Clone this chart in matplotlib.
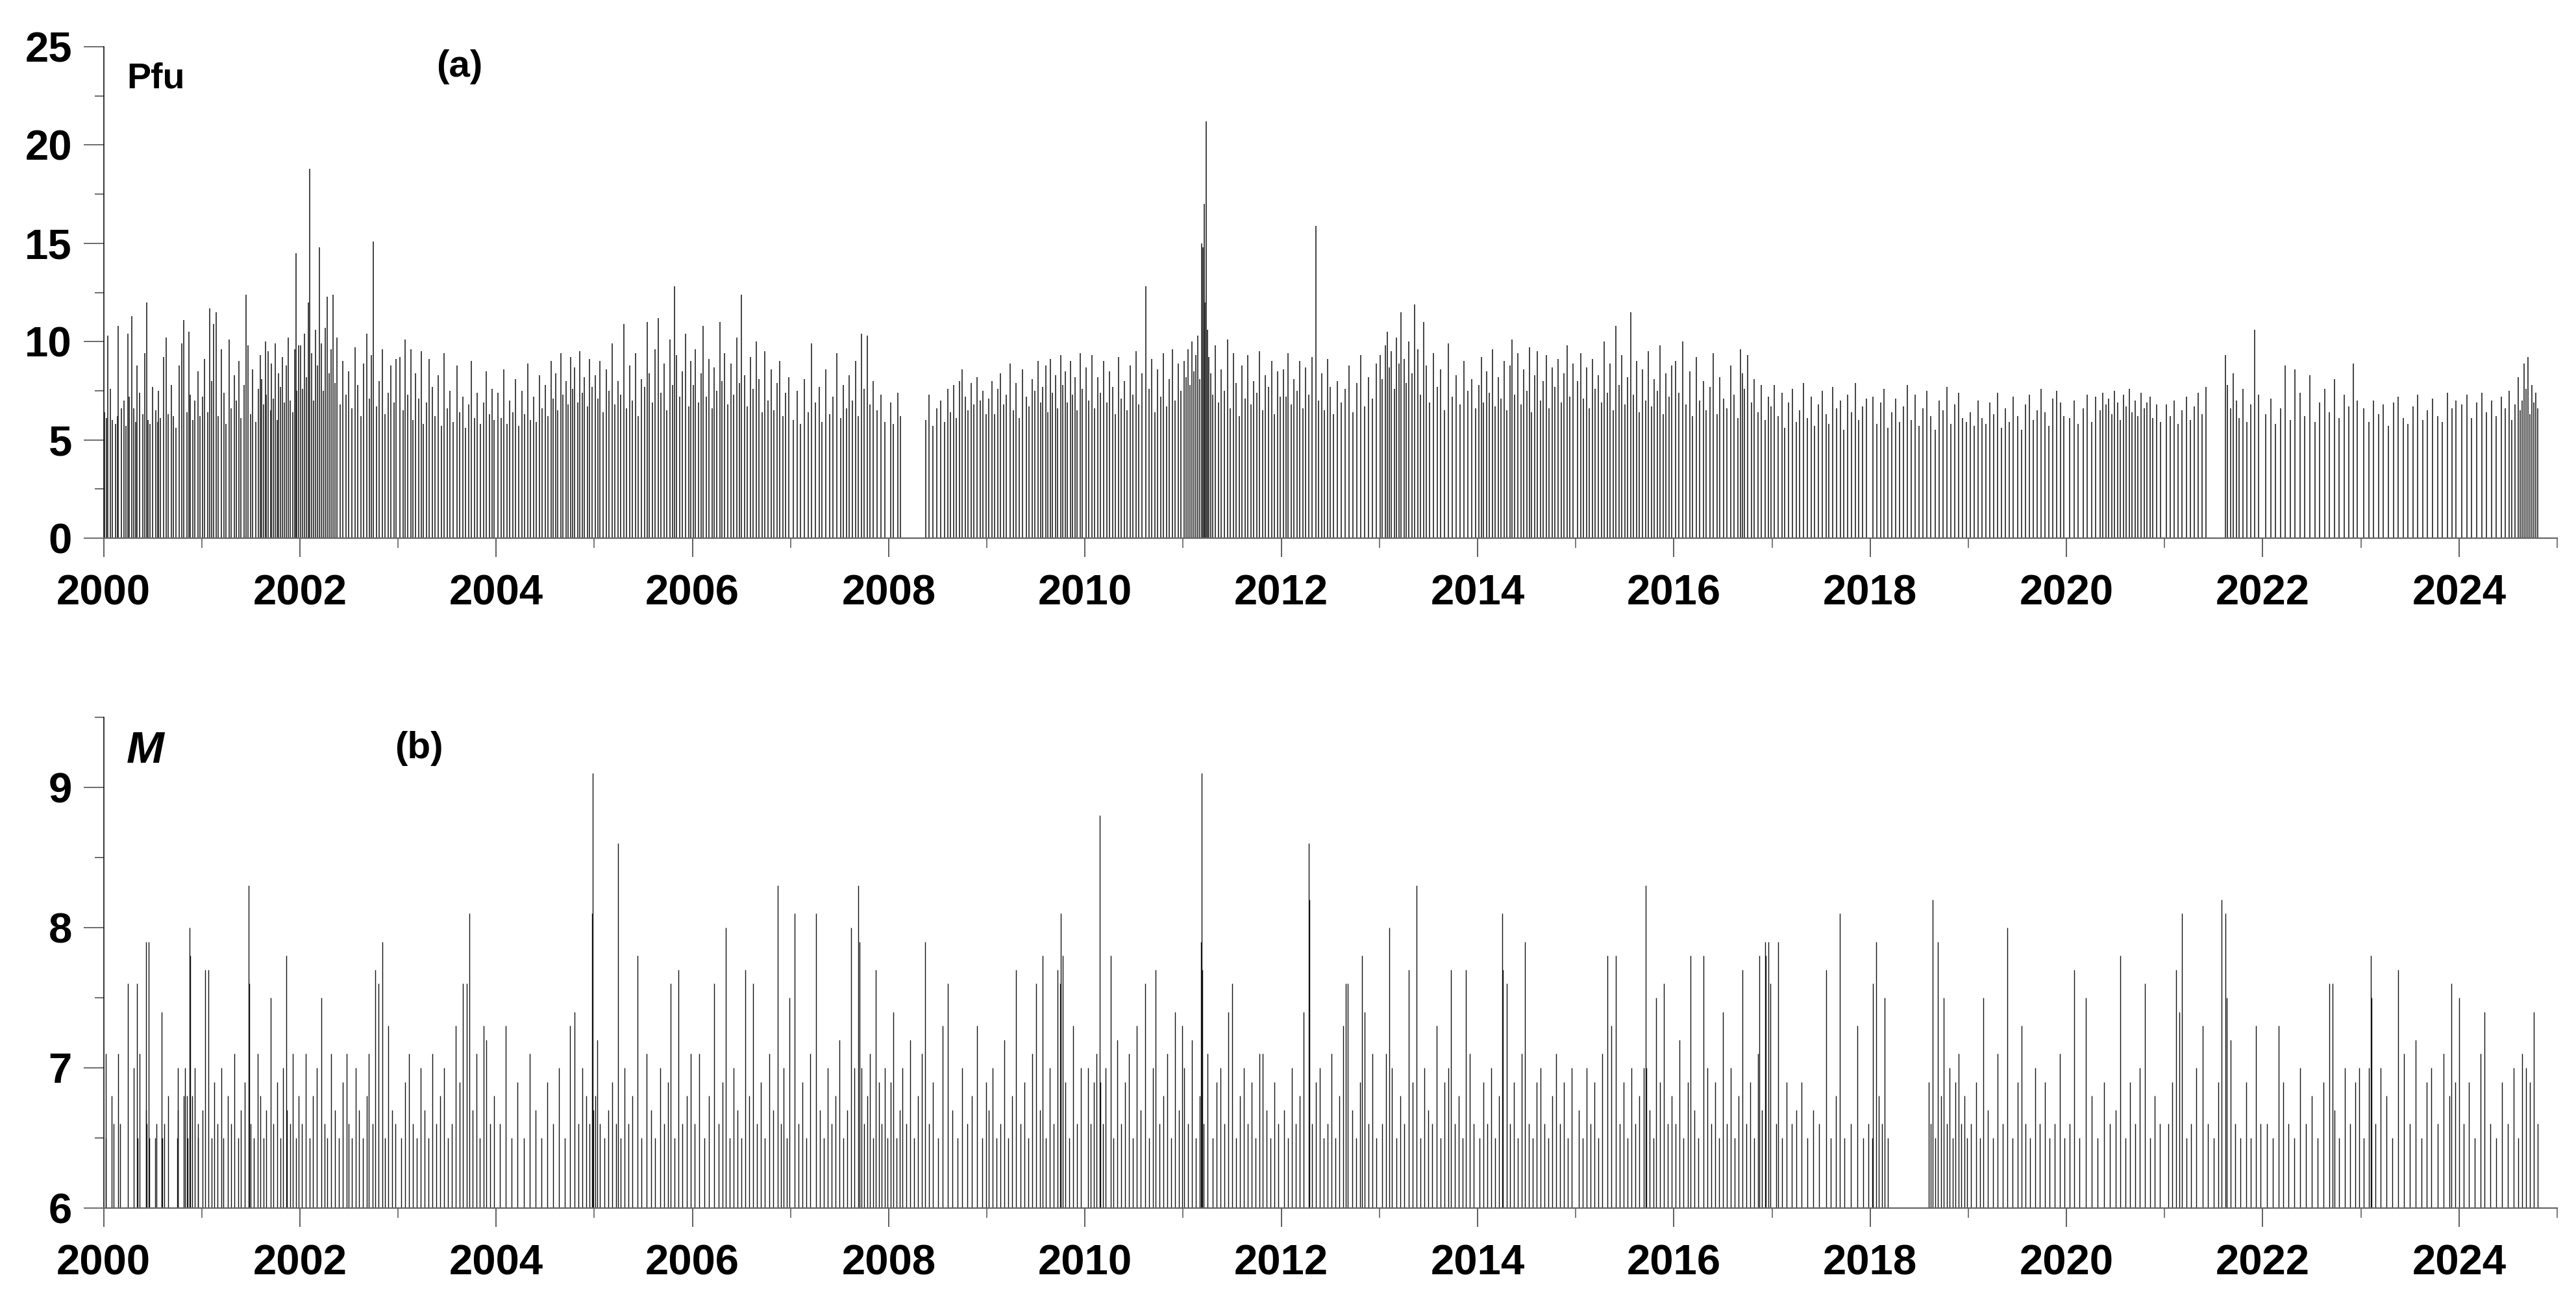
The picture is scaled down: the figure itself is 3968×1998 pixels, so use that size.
import matplotlib
matplotlib.use("Agg")
import matplotlib.pyplot as plt
from matplotlib.ticker import MultipleLocator, FormatStrFormatter

# ---------------- data (years since 2000.0) ----------------
pfu_t = [
    0.01,0.03,0.04,0.07,0.09,0.12,0.14,0.15,0.18,0.21,0.23,0.25,0.26,0.29,0.31,0.33,0.34,0.37,0.40,0.42,0.44,0.45,0.47,0.50,0.53,0.55,0.56,0.58,0.61,0.64,0.66,0.69,0.71,0.74,0.77,0.80,0.82,0.85,0.87,0.88,0.91,0.93,0.96,0.98,
    1.01,1.03,1.06,1.08,1.10,1.12,1.15,1.17,1.20,1.23,1.25,1.28,1.30,1.33,1.35,1.38,1.40,1.43,1.45,1.47,1.50,1.52,1.55,1.58,1.60,1.61,1.63,1.65,1.66,1.68,1.70,1.71,1.73,1.75,1.77,1.78,1.80,1.82,1.84,1.86,1.88,1.90,1.93,1.95,1.97,1.99,
    1.96,2.01,2.03,2.05,2.07,2.09,2.10,2.12,2.14,2.16,2.18,2.20,2.22,2.24,2.26,2.28,2.30,2.32,2.34,2.36,2.38,2.41,2.44,2.47,2.50,2.53,2.56,2.59,2.62,2.65,2.68,2.71,2.73,2.75,2.78,2.81,2.84,2.87,2.90,2.93,2.96,2.98,
    3.02,3.05,3.07,3.10,3.13,3.15,3.18,3.21,3.24,3.26,3.29,3.32,3.35,3.38,3.41,3.44,3.47,3.50,3.53,3.56,3.60,3.63,3.66,3.69,3.72,3.75,3.78,3.81,3.84,3.87,3.90,3.93,3.96,3.98,
    4.02,4.05,4.08,4.11,4.14,4.17,4.20,4.23,4.26,4.29,4.32,4.35,4.38,4.41,4.44,4.47,4.50,4.53,4.56,4.58,4.61,4.63,4.66,4.68,4.71,4.73,4.76,4.78,4.80,4.83,4.85,4.88,4.90,4.93,4.95,4.98,
    5.01,5.04,5.06,5.09,5.12,5.15,5.18,5.21,5.24,5.27,5.30,5.33,5.36,5.39,5.42,5.45,5.48,5.51,5.54,5.56,5.59,5.62,5.65,5.68,5.71,5.74,5.77,5.80,5.82,5.84,5.87,5.90,5.93,5.96,5.98,
    6.01,6.03,6.06,6.09,6.11,6.14,6.17,6.20,6.22,6.25,6.28,6.30,6.33,6.36,6.39,6.42,6.45,6.48,6.50,6.53,6.56,6.59,6.62,6.65,6.68,6.71,6.74,6.77,6.80,6.83,6.86,6.89,6.92,6.95,6.98,
    7.03,7.07,7.10,7.14,7.18,7.21,7.25,7.29,7.32,7.36,7.40,7.43,7.47,7.51,7.54,7.57,7.60,7.63,7.66,7.69,7.72,7.75,7.78,7.81,7.84,7.88,7.92,7.96,
    8.02,8.05,8.09,8.12,8.38,8.41,8.45,8.49,8.53,8.57,8.60,8.63,8.66,8.69,8.72,8.75,8.78,8.81,8.84,8.87,8.90,8.93,8.96,8.99,
    9.02,9.05,9.08,9.11,9.14,9.17,9.20,9.24,9.27,9.30,9.33,9.36,9.40,9.43,9.46,9.49,9.52,9.55,9.57,9.60,9.62,9.65,9.67,9.70,9.72,9.75,9.77,9.80,9.82,9.85,9.87,9.90,9.92,9.95,9.97,
    10.01,10.04,10.07,10.10,10.13,10.16,10.19,10.22,10.25,10.28,10.31,10.34,10.37,10.40,10.43,10.46,10.49,10.52,10.55,10.58,10.62,10.65,10.68,10.71,10.74,10.77,10.80,10.83,10.86,10.89,10.92,10.95,10.98,
    11.01,11.03,11.05,11.07,11.09,11.11,11.13,11.15,11.17,11.19,11.205,11.215,11.225,11.235,11.245,11.26,11.28,11.30,11.33,11.36,11.39,11.42,11.45,11.48,11.51,11.54,11.57,11.60,11.63,11.66,11.69,11.72,11.75,11.78,11.81,11.84,11.87,11.90,11.93,11.96,11.99,
    12.02,12.05,12.07,12.10,12.13,12.16,12.19,12.22,12.25,12.28,12.31,12.35,12.38,12.41,12.44,12.47,12.50,12.53,12.57,12.61,12.65,12.69,12.73,12.77,12.81,12.85,12.89,12.93,12.97,
    13.01,13.03,13.06,13.08,13.10,13.12,13.15,13.17,13.20,13.22,13.25,13.27,13.30,13.33,13.36,13.39,13.42,13.45,13.48,13.51,13.55,13.59,13.62,13.66,13.70,13.74,13.78,13.82,13.86,13.90,13.94,13.98,
    14.01,14.04,14.06,14.09,14.12,14.15,14.18,14.21,14.24,14.27,14.30,14.33,14.35,14.38,14.41,14.44,14.47,14.50,14.53,14.55,14.58,14.61,14.64,14.67,14.70,14.73,14.76,14.79,14.82,14.85,14.88,14.91,14.94,14.97,
    15.02,15.05,15.08,15.11,15.14,15.17,15.20,15.23,15.26,15.29,15.32,15.35,15.38,15.41,15.44,15.47,15.50,15.53,15.56,15.59,15.62,15.65,15.68,15.71,15.74,15.77,15.80,15.83,15.86,15.89,15.92,15.95,15.98,
    16.02,16.05,16.09,16.12,16.16,16.19,16.23,16.26,16.30,16.33,16.37,16.40,16.44,16.47,16.51,16.54,16.58,16.61,16.65,16.68,16.70,16.72,16.75,16.79,16.82,16.86,16.89,16.93,16.96,16.99,
    17.02,17.06,17.10,17.13,17.17,17.21,17.25,17.28,17.32,17.36,17.40,17.43,17.47,17.51,17.55,17.58,17.62,17.66,17.70,17.73,17.77,17.81,17.85,17.88,17.92,17.96,
    18.03,18.07,18.11,18.14,18.18,18.22,18.26,18.30,18.34,18.38,18.42,18.46,18.50,18.54,18.58,18.62,18.66,18.70,18.74,18.78,18.82,18.86,18.90,18.94,18.98,
    19.02,19.06,19.10,19.14,19.18,19.22,19.26,19.30,19.34,19.38,19.42,19.46,19.50,19.54,19.58,19.62,19.66,19.70,19.74,19.78,19.82,19.86,19.90,19.94,19.97,
    20.03,20.08,20.12,20.17,20.21,20.26,20.30,20.34,20.37,20.40,20.43,20.46,20.49,20.52,20.55,20.58,20.61,20.64,20.67,20.70,20.73,20.76,20.79,20.82,20.85,20.88,20.92,20.96,
    21.02,21.06,21.10,21.14,21.18,21.22,21.26,21.30,21.34,21.38,21.42,21.62,21.64,21.67,21.70,21.73,21.76,21.80,21.84,21.88,21.92,21.96,
    22.03,22.08,22.13,22.18,22.23,22.28,22.33,22.38,22.43,22.48,22.53,22.58,22.63,22.68,22.73,22.78,22.83,22.88,22.92,22.96,
    23.03,23.08,23.13,23.18,23.23,23.28,23.33,23.38,23.43,23.48,23.53,23.58,23.63,23.68,23.73,23.78,23.83,23.88,23.93,23.97,
    24.03,24.08,24.13,24.18,24.23,24.28,24.33,24.38,24.43,24.47,24.51,24.54,24.57,24.60,24.62,24.64,24.66,24.68,24.70,24.72,24.74,24.76,24.78,24.80,
]
pfu_v = [
    6.4,6.1,10.3,7.6,6.0,5.8,6.2,10.8,6.6,7.0,5.7,10.4,7.2,11.3,6.6,5.9,8.8,7.4,6.3,9.4,12.0,6.0,5.8,7.7,6.5,5.9,7.5,6.1,9.2,10.2,6.3,7.8,6.2,5.6,8.8,9.9,11.1,6.4,10.5,7.3,6.0,7.0,8.5,6.2,
    7.2,9.1,6.4,11.7,8.0,10.9,11.5,6.2,9.6,7.4,5.8,10.1,6.6,8.3,7.0,9.0,6.1,7.8,12.4,9.8,6.3,8.6,5.9,7.6,9.3,8.1,6.8,10.0,7.3,9.5,6.5,8.9,7.1,9.9,6.0,8.4,7.7,9.2,6.9,8.8,10.2,7.0,6.4,9.6,7.5,9.8,
    14.5,9.8,7.6,10.4,8.2,12.0,18.8,9.4,7.0,10.6,8.8,14.8,9.9,7.5,10.7,12.3,8.4,9.6,12.4,7.9,10.2,6.8,9.0,7.3,8.5,6.6,9.7,7.8,6.2,8.9,10.4,7.1,9.3,15.1,6.7,8.0,9.6,6.3,7.4,8.8,6.9,9.1,
    9.2,6.5,10.1,7.3,9.6,6.0,8.4,7.1,9.5,5.8,6.9,9.1,7.7,6.2,8.3,5.7,9.4,6.6,7.5,5.9,8.8,6.4,7.2,5.6,6.8,9.0,6.1,7.4,5.8,6.9,8.5,6.3,7.6,6.0,
    7.4,6.1,8.6,5.8,7.0,6.4,8.1,5.7,7.5,6.3,8.9,6.0,7.2,5.9,8.3,6.6,7.8,6.2,9.0,7.1,8.4,6.5,9.4,7.3,8.0,6.8,9.2,7.6,8.7,6.9,9.5,7.4,8.2,6.7,9.1,7.7,
    8.3,7.1,9.0,6.4,8.6,7.5,9.9,6.8,8.0,7.3,10.9,6.6,8.8,7.0,9.4,6.2,8.1,7.7,11.0,8.4,6.9,9.6,11.2,7.4,8.9,6.5,10.1,7.8,12.8,9.3,7.2,8.5,10.4,6.7,9.0,
    7.8,9.6,6.9,8.4,10.8,7.2,9.1,6.6,8.7,7.5,11.0,8.0,9.4,6.8,8.9,7.3,10.2,7.9,12.4,8.3,6.7,9.2,7.6,10.0,8.1,6.4,9.5,7.0,8.6,6.5,7.9,9.0,6.2,7.4,8.2,
    6.0,7.5,5.8,8.1,6.4,9.9,6.9,7.7,5.9,8.6,6.3,7.2,9.4,6.1,7.8,6.6,8.3,7.0,9.0,6.2,10.4,7.6,10.3,6.8,8.0,6.5,7.3,5.9,
    6.9,5.8,7.4,6.2,6.0,7.3,5.7,6.6,7.0,5.9,7.6,6.4,7.8,6.1,8.0,8.6,7.2,6.5,7.9,6.8,8.2,7.0,7.5,6.3,
    7.1,8.0,6.3,7.6,8.4,6.8,7.3,8.9,6.5,7.9,6.1,8.6,7.2,6.7,8.1,7.5,9.0,6.9,7.7,8.8,6.4,9.1,7.4,8.3,6.6,9.3,7.8,8.5,6.9,9.0,7.3,8.2,6.5,9.4,7.6,
    8.7,7.0,9.3,6.6,8.2,7.4,9.0,6.9,8.5,7.7,6.3,9.2,7.1,8.0,6.5,8.8,7.3,9.5,6.8,8.4,12.8,7.6,9.1,6.4,8.6,7.2,9.4,6.7,8.1,9.6,7.0,8.9,7.5,
    9.0,8.2,9.6,7.8,10.0,8.5,9.3,10.3,8.1,15.0,14.8,17.0,12.0,21.2,10.6,9.2,8.4,7.3,9.8,6.9,8.6,7.5,10.1,6.6,9.4,7.9,6.2,8.8,7.1,9.3,6.8,8.0,7.4,9.5,6.5,8.3,7.7,9.0,6.3,8.5,7.2,
    8.6,7.2,9.4,6.8,8.1,7.5,9.0,6.6,8.7,7.3,9.2,15.9,7.0,8.4,6.5,9.1,7.7,6.3,8.0,6.9,7.6,8.8,6.4,7.9,9.3,6.7,8.2,7.1,8.9,
    9.3,8.1,9.8,10.5,8.7,9.5,7.6,10.2,8.9,11.5,9.1,7.9,10.0,8.4,11.9,9.6,7.3,11.0,8.8,6.9,9.4,7.7,8.6,6.5,9.9,7.2,8.3,6.8,9.0,7.5,8.1,6.6,
    7.8,9.2,6.9,8.5,7.4,9.6,6.7,8.2,7.1,9.0,6.5,8.8,10.1,7.3,9.4,6.8,8.6,7.5,9.7,6.4,8.3,9.5,7.0,8.0,9.3,6.6,8.7,7.7,9.1,6.9,8.4,9.8,7.2,8.9,
    8.0,9.4,7.1,8.7,6.6,9.1,7.6,8.3,6.9,10.0,7.4,8.9,6.5,10.8,7.8,9.3,6.8,8.2,11.5,7.3,9.0,6.4,8.6,7.0,9.5,6.7,8.1,7.5,9.8,6.3,8.4,7.2,8.8,
    9.0,7.4,10.0,6.8,8.5,6.2,9.2,7.0,8.0,6.5,7.7,9.4,6.3,8.2,7.1,6.6,8.8,7.3,6.1,9.6,8.4,7.6,9.3,6.9,8.1,6.4,7.8,6.0,7.2,6.7,
    7.8,6.2,7.4,5.6,6.9,7.6,5.9,6.5,7.9,6.1,7.2,5.7,6.8,7.5,6.3,5.8,7.7,6.6,7.0,5.5,7.3,6.4,7.9,6.0,6.7,7.1,
    7.2,5.8,6.9,7.6,5.6,6.4,7.1,5.9,6.7,7.8,6.0,7.3,5.7,6.6,7.5,6.2,5.5,7.0,6.5,7.7,5.8,6.8,7.4,6.1,5.9,
    6.4,5.7,7.0,6.1,5.8,6.9,6.3,7.4,5.6,6.6,5.9,7.2,6.2,5.5,6.8,7.3,6.0,6.5,7.6,6.4,5.7,7.1,7.5,6.9,6.2,
    6.1,7.0,5.8,6.6,7.3,5.9,7.2,6.5,7.4,6.8,7.1,6.3,7.5,6.9,6.0,7.3,6.7,7.6,6.4,7.0,6.2,7.4,6.6,6.9,7.2,6.1,6.8,5.9,
    6.8,6.2,7.0,5.8,6.5,7.2,6.0,6.7,7.4,6.3,7.7,9.3,7.8,6.6,8.4,7.0,6.1,7.6,5.9,6.8,10.6,7.3,
    6.3,7.1,5.8,6.6,8.8,6.0,8.6,7.4,6.2,8.3,5.9,6.9,7.6,6.4,8.1,6.1,7.3,6.7,8.9,7.0,
    6.6,5.9,7.0,6.3,6.8,5.7,6.9,7.2,6.1,5.8,6.7,7.3,6.0,6.5,7.1,6.2,5.9,7.4,6.6,7.0,
    6.8,7.3,6.1,6.9,7.4,6.4,7.0,6.2,7.2,6.6,7.5,6.0,6.8,8.2,6.5,7.0,8.9,7.6,9.2,6.3,7.8,6.9,7.4,6.6,
]

mag_t = [
    0.02,0.025,0.08,0.10,0.15,0.17,0.245,0.31,0.34,0.345,0.37,0.43,0.435,0.44,0.46,0.465,0.525,0.54,0.59,0.594,0.60,0.62,0.66,0.75,0.755,0.76,0.82,0.83,0.85,0.855,0.876,0.88,0.90,0.93,0.96,0.965,
    1.01,1.035,1.07,1.10,1.13,1.16,1.2,1.22,1.27,1.3,1.33,1.37,1.4,1.44,1.48,1.485,1.5,1.53,1.57,1.6,1.63,1.66,1.7,1.73,1.77,1.8,1.83,1.86,1.87,1.9,1.93,1.96,1.99,
    2.02,2.06,2.1,2.13,2.17,2.22,2.25,2.28,2.32,2.36,2.4,2.44,2.48,2.5,2.53,2.57,2.6,2.64,2.68,2.7,2.74,2.77,2.8,2.84,2.87,2.9,2.94,2.97,
    3.03,3.07,3.11,3.15,3.19,3.23,3.27,3.31,3.35,3.39,3.43,3.47,3.51,3.55,3.59,3.63,3.66,3.7,3.73,3.76,3.8,3.83,3.87,3.9,3.94,3.98,
    4.04,4.1,4.16,4.22,4.28,4.34,4.4,4.46,4.52,4.58,4.64,4.7,4.75,4.8,4.84,4.88,4.92,4.95,4.975,4.985,4.99,
    5.01,5.03,5.06,5.1,5.14,5.18,5.22,5.24,5.27,5.31,5.35,5.39,5.44,5.48,5.53,5.58,5.62,5.67,5.71,5.75,5.78,5.82,5.86,5.9,5.94,5.98,
    6.02,6.07,6.12,6.17,6.22,6.27,6.31,6.34,6.38,6.42,6.46,6.5,6.54,6.58,6.62,6.66,6.7,6.74,6.78,6.82,6.87,6.9,6.93,6.96,6.99,
    7.04,7.08,7.12,7.16,7.2,7.26,7.3,7.34,7.38,7.42,7.46,7.5,7.54,7.58,7.62,7.65,7.69,7.70,7.72,7.75,7.78,7.81,7.84,7.87,7.9,7.93,7.96,7.99,
    8.02,8.05,8.08,8.11,8.14,8.18,8.22,8.26,8.3,8.34,8.37,8.41,8.45,8.5,8.55,8.6,8.65,8.7,8.75,8.8,8.85,8.9,8.95,8.99,
    9.02,9.06,9.1,9.14,9.18,9.22,9.26,9.3,9.34,9.38,9.42,9.46,9.5,9.54,9.57,9.6,9.64,9.68,9.72,9.745,9.75,9.77,9.8,9.84,9.88,9.92,9.96,
    10.03,10.06,10.09,10.12,10.15,10.16,10.18,10.21,10.26,10.29,10.33,10.37,10.41,10.45,10.49,10.53,10.57,10.61,10.65,10.69,10.72,10.76,10.8,10.84,10.88,10.92,10.96,10.99,
    11.01,11.05,11.09,11.13,11.17,11.185,11.19,11.195,11.21,11.25,11.3,11.34,11.38,11.42,11.46,11.5,11.54,11.58,11.62,11.66,11.7,11.74,11.78,11.81,11.85,11.89,11.93,11.97,
    12.03,12.07,12.11,12.15,12.19,12.23,12.28,12.285,12.31,12.35,12.39,12.43,12.47,12.51,12.55,12.59,12.63,12.66,12.68,12.72,12.76,12.8,12.82,12.85,12.89,12.93,12.97,
    13.03,13.07,13.1,13.13,13.17,13.21,13.25,13.3,13.34,13.38,13.42,13.46,13.5,13.54,13.58,13.62,13.66,13.7,13.73,13.77,13.81,13.85,13.88,13.92,13.96,
    14.02,14.06,14.1,14.14,14.18,14.22,14.25,14.26,14.3,14.33,14.37,14.41,14.45,14.48,14.52,14.56,14.6,14.64,14.68,14.72,14.76,14.8,14.84,14.88,14.92,14.96,
    15.03,15.07,15.11,15.15,15.19,15.23,15.27,15.32,15.36,15.41,15.45,15.49,15.53,15.57,15.61,15.65,15.69,15.71,15.72,15.75,15.79,15.82,15.86,15.9,15.94,15.98,
    16.02,16.06,16.1,16.14,16.17,16.21,16.25,16.3,16.34,16.38,16.42,16.46,16.5,16.54,16.58,16.62,16.66,16.7,16.74,16.78,16.82,16.86,16.87,16.9,16.93,16.94,16.96,16.98,
    17.04,17.06,17.1,17.15,17.2,17.25,17.3,17.36,17.42,17.48,17.55,17.6,17.65,17.69,17.74,17.8,17.87,17.93,17.98,
    18.02,18.03,18.06,18.09,18.12,18.15,18.18,18.6,18.62,18.64,18.66,18.69,18.72,18.75,18.78,18.81,18.84,18.87,18.9,18.93,18.96,18.99,
    19.03,19.08,19.12,19.15,19.2,19.25,19.3,19.35,19.4,19.45,19.5,19.54,19.58,19.63,19.68,19.73,19.78,19.83,19.88,19.93,19.98,
    20.03,20.08,20.13,20.2,20.26,20.32,20.38,20.44,20.5,20.55,20.6,20.65,20.7,20.75,20.8,20.85,20.9,20.95,
    21.04,21.08,21.12,21.15,21.18,21.22,21.27,21.32,21.39,21.44,21.5,21.55,21.58,21.62,21.63,21.67,21.72,21.77,21.83,21.88,21.93,21.98,
    22.04,22.1,22.16,22.21,22.26,22.32,22.38,22.44,22.5,22.56,22.62,22.68,22.71,22.73,22.78,22.84,22.89,22.94,22.98,
    23.03,23.08,23.1,23.11,23.15,23.2,23.26,23.32,23.38,23.44,23.5,23.56,23.62,23.67,23.72,23.78,23.84,23.9,23.92,23.96,
    24.0,24.05,24.1,24.16,24.22,24.26,24.32,24.38,24.44,24.5,24.56,24.6,24.64,24.68,24.72,24.76,24.8,
]
mag_v = [
    7.1,6.5,6.8,6.6,7.1,6.6,7.6,7.0,7.6,6.5,7.1,7.9,6.7,6.6,7.9,6.5,6.5,6.6,6.5,7.4,6.5,6.6,6.8,6.5,7.0,6.7,6.8,7.0,6.8,6.5,8.0,7.8,6.8,7.0,6.6,6.5,
    6.7,7.7,7.7,6.5,6.9,6.6,7.0,6.5,6.8,6.6,7.1,6.5,6.7,6.9,8.3,7.6,6.6,6.5,7.1,6.8,6.5,6.7,7.5,6.6,6.9,6.5,7.0,7.8,6.7,6.6,7.1,6.5,6.8,
    6.6,7.1,6.5,6.8,7.0,7.5,6.6,6.5,7.1,6.7,6.5,6.9,7.1,6.6,6.5,7.0,6.7,6.5,6.8,7.1,6.6,7.7,7.6,7.9,6.5,7.3,6.7,6.6,
    6.5,6.9,7.1,6.6,6.5,7.0,6.7,6.5,7.1,6.6,6.8,7.0,6.5,6.6,7.3,6.9,7.6,7.6,8.1,6.7,7.1,6.5,7.3,7.2,6.6,6.8,
    6.6,7.3,6.5,6.9,6.5,7.1,6.7,6.5,6.9,6.6,7.0,6.5,7.3,7.4,6.6,7.0,6.8,6.6,8.1,9.1,6.7,
    6.8,7.2,6.6,6.5,6.7,6.9,6.6,8.6,6.5,7.0,6.6,6.8,7.8,6.5,7.1,6.7,6.5,7.0,6.6,6.9,7.6,6.5,7.7,6.6,6.8,7.1,
    6.6,7.1,6.5,6.8,7.6,6.6,6.9,8.0,6.5,7.0,6.7,6.5,7.7,6.8,7.6,6.6,6.9,6.5,7.1,6.7,8.3,6.6,7.0,6.5,7.5,
    8.1,6.6,6.9,6.5,7.1,8.1,6.7,6.5,7.0,6.6,6.8,7.2,6.5,6.7,8.0,7.0,8.3,7.9,7.0,6.6,6.8,7.1,6.5,7.7,6.9,6.6,7.0,6.5,
    6.9,7.4,6.5,6.7,7.0,6.6,7.2,6.5,6.8,7.1,7.9,6.6,6.9,6.5,7.3,7.6,6.7,6.5,7.0,6.6,6.8,7.3,6.5,6.9,
    6.7,7.0,6.5,6.6,7.2,6.5,6.8,7.7,6.6,6.9,6.5,7.1,7.6,6.7,7.8,6.5,7.0,6.6,7.7,7.6,8.1,7.8,6.9,6.5,7.3,6.6,7.0,
    7.0,6.6,6.9,7.1,8.8,6.9,6.6,7.0,7.8,6.5,7.2,6.6,6.9,7.1,6.5,7.3,6.7,7.6,6.5,7.0,7.7,6.6,6.8,7.1,6.5,7.4,6.7,7.3,
    7.0,6.6,7.2,6.5,6.8,7.9,9.1,7.7,6.6,7.1,6.5,6.9,7.0,6.6,7.4,7.6,6.5,6.8,7.0,6.6,6.9,6.5,7.1,7.1,6.7,6.5,6.9,6.6,
    6.7,6.5,7.0,6.6,6.8,7.4,8.6,8.2,6.6,6.9,7.0,6.5,6.6,7.1,6.5,6.8,7.3,7.6,7.6,6.7,6.5,6.9,7.8,7.4,6.6,7.1,6.5,
    6.6,7.1,8.0,7.0,6.5,6.8,6.6,7.7,6.9,8.3,6.5,7.0,6.7,6.6,7.3,6.5,6.9,7.0,7.7,6.6,6.8,6.5,7.7,7.1,6.6,
    6.5,6.9,6.6,7.0,6.5,6.8,8.1,7.7,7.6,6.6,6.9,6.5,7.1,7.9,6.6,6.5,6.9,7.0,6.6,6.5,6.8,7.1,6.6,6.9,6.5,7.0,
    6.7,6.5,7.0,6.6,6.9,6.5,7.1,7.8,7.3,7.8,6.6,6.9,6.5,7.0,6.6,6.8,7.0,8.3,7.0,6.7,6.5,7.5,6.9,7.6,6.6,6.8,
    6.6,7.2,6.5,6.9,7.8,6.7,6.5,7.8,7.0,6.6,6.9,6.5,7.4,6.6,7.0,6.5,6.8,7.7,6.6,6.9,6.5,7.1,7.8,6.7,7.9,7.8,7.9,7.6,
    6.6,7.9,6.5,6.9,6.6,6.7,6.9,6.5,6.7,6.6,7.7,6.5,6.8,8.1,6.5,6.6,7.3,6.5,6.6,
    6.5,7.6,7.9,6.8,6.6,7.5,6.5,6.9,6.6,8.2,6.5,7.9,6.8,7.5,6.6,7.0,6.5,6.9,7.1,6.6,6.8,6.5,
    6.6,6.9,6.5,7.5,6.7,6.5,7.1,6.6,8.0,6.5,6.9,7.3,6.6,6.5,7.0,6.6,6.9,6.5,6.6,7.1,6.5,
    6.6,7.7,6.5,7.5,6.8,6.5,6.9,6.6,6.7,7.8,6.5,6.9,6.6,7.0,7.6,6.5,6.8,6.6,
    6.6,6.9,7.7,7.4,8.1,6.5,6.6,7.0,7.3,6.6,6.5,6.9,8.2,8.1,7.5,7.2,6.6,6.5,6.9,6.5,7.3,6.6,
    6.6,6.5,7.3,6.9,6.6,6.5,7.0,6.6,6.8,6.5,6.9,7.6,7.6,6.7,6.5,7.0,6.6,6.9,7.0,
    6.5,7.0,7.8,7.5,6.6,7.0,6.8,6.5,7.7,7.1,6.6,7.2,6.5,6.9,7.0,6.6,7.1,6.8,7.6,6.9,
    7.5,6.6,6.9,6.5,7.1,7.4,6.6,6.5,6.9,6.6,7.0,6.5,7.1,7.0,6.9,7.4,6.6,
]

year0 = 2000

# ---------------- figure ----------------
W, H, DPI = 3968, 1998, 100
fig = plt.figure(figsize=(W / DPI, H / DPI), dpi=DPI)
FONT = ['Liberation Sans Narrow', 'Liberation Sans', 'DejaVu Sans']
plt.rcParams['font.family'] = FONT

x_left, x_right = 159.5, 3939.0
axA = fig.add_axes([x_left / W, 1 - 829 / H, (x_right - x_left) / W, (829 - 72) / H])
axB = fig.add_axes([x_left / W, 1 - 1861 / H, (x_right - x_left) / W, (1861 - 1105) / H])

n1 = min(len(pfu_t), len(pfu_v))
axA.vlines([year0 + t for t in pfu_t[:n1]], 0, pfu_v[:n1], colors='#111111', linewidth=1.1)
n2 = min(len(mag_t), len(mag_v))
axB.vlines([year0 + t for t in mag_t[:n2]], 6, mag_v[:n2], colors='#111111', linewidth=1.0)

axA.set_ylim(0, 25)
axB.set_ylim(6, 9.5)
axA.yaxis.set_major_locator(MultipleLocator(5))
axA.yaxis.set_minor_locator(MultipleLocator(2.5))
axB.yaxis.set_major_locator(MultipleLocator(1))
axB.yaxis.set_minor_locator(MultipleLocator(0.5))

for ax in (axA, axB):
    ax.set_xlim(2000, 2025)
    ax.xaxis.set_major_locator(MultipleLocator(2))
    ax.xaxis.set_minor_locator(MultipleLocator(1))
    ax.xaxis.set_major_formatter(FormatStrFormatter('%d'))
    ax.yaxis.set_major_formatter(FormatStrFormatter('%d'))
    ax.spines['top'].set_visible(False)
    ax.spines['right'].set_visible(False)
    ax.spines['left'].set_color('#111111')
    ax.spines['left'].set_linewidth(1.2)
    ax.spines['bottom'].set_color('#666666')
    ax.spines['bottom'].set_linewidth(1.6)
    ax.tick_params(axis='x', which='major', direction='out', length=21, width=1.1,
                   color='#333333', pad=19, labelsize=47)
    ax.tick_params(axis='x', which='minor', direction='out', length=11, width=1.1, color='#555555')
    ax.tick_params(axis='y', which='major', direction='out', length=22, width=1.1,
                   color='#444444', pad=13, labelsize=47)
    ax.tick_params(axis='y', which='minor', direction='out', length=10, width=1.1, color='#444444')
    for lab in ax.get_xticklabels() + ax.get_yticklabels():
        lab.set_fontweight('bold')
        lab.set_family(FONT)
    ax.set_facecolor('none')

fig.text(195 / W, 1 - 135 / H, 'Pfu', fontsize=40, fontweight='bold', family=FONT, va='baseline', ha='left')
fig.text(672 / W, 1 - 118 / H, '(a)', fontsize=42, fontweight='bold', family=FONT, va='baseline', ha='left')
fig.text(195 / W, 1 - 1175 / H, 'M', fontsize=50, fontweight='bold', fontstyle='italic', family=FONT, va='baseline', ha='left')
fig.text(608 / W, 1 - 1168 / H, '(b)', fontsize=42, fontweight='bold', family=FONT, va='baseline', ha='left')

fig.savefig('out.png', dpi=DPI, facecolor='white')
